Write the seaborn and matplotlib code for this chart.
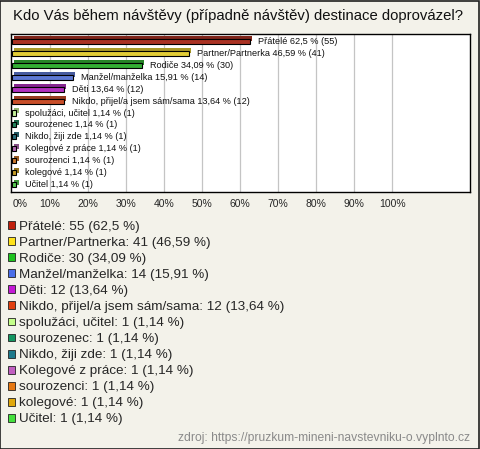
import matplotlib
matplotlib.use('Agg')
import matplotlib.pyplot as plt
import matplotlib.patheffects as pe
import seaborn as sns
import pandas as pd

categories = ['Přátelé', 'Partner/Partnerka', 'Rodiče', 'Manžel/manželka', 'Děti',
              'Nikdo, přijel/a jsem sám/sama', 'spolužáci, učitel', 'sourozenec',
              'Nikdo, žiji zde', 'Kolegové z práce', 'sourozenci', 'kolegové', 'Učitel']
counts = [55, 41, 30, 14, 12, 12, 1, 1, 1, 1, 1, 1, 1]
percents = [62.5, 46.59, 34.09, 15.91, 13.64, 13.64, 1.14, 1.14, 1.14, 1.14, 1.14, 1.14, 1.14]
colors = ['#c0200c', '#ffe21a', '#1ec31e', '#4a6ee8', '#c41ad6', '#e2400f', '#c4ff8a',
          '#139660', '#1e7a8c', '#c05ec0', '#e67812', '#e0a80c', '#44e03c']
tick_labels = ['0%', '10%', '20%', '30%', '40%', '50%', '60%', '70%', '80%', '90%', '100%']

bg = '#f3f2ea'


def fmt(v):
    return ('%g' % v).replace('.', ',')


df = pd.DataFrame({'cat': categories, 'pct': percents, 'n': counts})

sns.set_style('white')
plt.rcParams['font.family'] = ['Liberation Sans', 'DejaVu Sans']

fig = plt.figure(figsize=(4.8, 4.49), dpi=100, facecolor=bg)
fig.patches.append(plt.Rectangle((0.001, 0.001), 0.997, 0.997, transform=fig.transFigure,
                                 fill=False, edgecolor='#202020', linewidth=1.2))
ax = fig.add_axes([11 / 480, 1 - 192 / 449, 459 / 480, 158 / 449])

sns.barplot(data=df, y='cat', x='pct', hue='cat', palette=colors, orient='h',
            width=0.42, edgecolor='black', linewidth=0.8, legend=False, ax=ax)
for bar in ax.patches:
    bar.set_path_effects([pe.SimplePatchShadow(offset=(1.6, 1.6), alpha=1, rho=0.75),
                          pe.Normal()])

for i, (c, p, n) in enumerate(zip(categories, percents, counts)):
    ax.annotate('%s %s %% (%d)' % (c, fmt(p), n), xy=(p, i), xytext=(6, 0),
                textcoords='offset points', va='center', ha='left', fontsize=6.6,
                color='#111111')

ax.set_xlim(-0.3, 120.5)
ax.set_ylim(12.6, -0.6)
ax.set_xticks(range(0, 101, 10))
ax.set_xticklabels(tick_labels, fontsize=7.5)
ax.get_xticklabels()[0].set_horizontalalignment('left')
ax.set_yticks([])
ax.set_xlabel('')
ax.set_ylabel('')
ax.tick_params(axis='x', length=0, pad=5)
for x in range(10, 101, 10):
    ax.axvline(x, color='#c4c4c4', linewidth=0.9, zorder=0)
for s in ax.spines.values():
    s.set_color('black')
    s.set_linewidth(1.0)
ax.set_facecolor('white')

fig.text(13 / 480, 1 - 16 / 449, 'Kdo Vás během návštěvy (případně návštěv) destinace doprovázel?',
         fontsize=10.7, va='center', ha='left', color='#111111')

handles = [plt.Rectangle((0, 0), 1, 1, facecolor=c, edgecolor='#222222', linewidth=0.6)
           for c in colors]
labels = ['%s: %d (%s %%)' % (c, n, fmt(p)) for c, n, p in zip(categories, counts, percents)]
fig.legend(handles, labels, loc='upper left', bbox_to_anchor=(8 / 480, 1 - 221 / 449),
           frameon=False, fontsize=9.7, handlelength=0.53, handleheight=0.53,
           handletextpad=0.3, labelspacing=0.30, borderaxespad=0, borderpad=0)

fig.text(470 / 480, 1 - 438 / 449, 'zdroj: https://pruzkum-mineni-navstevniku-o.vyplnto.cz',
         fontsize=8.7, ha='right', va='center', color='#8a8a8a')

fig.savefig('out.png', dpi=100, facecolor=bg)
